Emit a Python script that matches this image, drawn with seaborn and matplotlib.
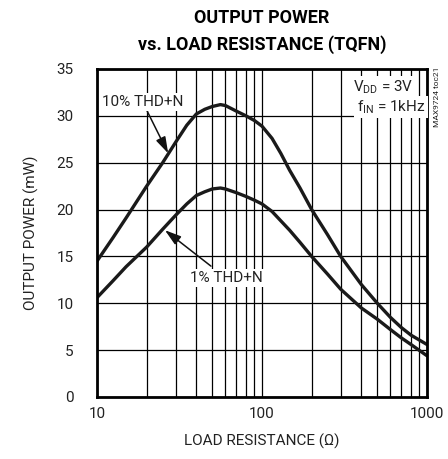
import matplotlib
matplotlib.use("Agg")
import matplotlib.pyplot as plt
import matplotlib.ticker as mticker
import seaborn as sns
import pandas as pd

# data
load_ohm = [10, 12.5, 15, 20, 25, 30, 35, 40, 45, 50, 56, 60, 70, 80, 90, 100, 115, 130,
            147, 170, 200, 250, 300, 400, 500, 600, 700, 800, 1000]
power_10pct = [14.5, 17.0, 19.1, 22.5, 25.0, 27.2, 29.0, 30.2, 30.7, 31.0, 31.2, 31.1, 30.5, 30.0,
               29.5, 28.9, 27.6, 26.0, 24.2, 22.3, 20.0, 17.3, 15.0, 12.0, 10.0, 8.5, 7.4, 6.6, 5.6]
power_1pct = [10.6, 12.4, 13.9, 16.0, 17.9, 19.4, 20.6, 21.5, 21.9, 22.2, 22.3, 22.2, 21.8, 21.4,
              21.0, 20.6, 19.8, 18.8, 17.8, 16.5, 15.0, 13.1, 11.5, 9.5, 8.3, 7.2, 6.3, 5.6, 4.4]
series_names = ["10% THD+N", "1% THD+N"]
y_ticks = [0, 5, 10, 15, 20, 25, 30, 35]
x_ticks = [10, 100, 1000]
x_tick_labels = ["10", "100", "1000"]

df = pd.DataFrame({
    "R": load_ohm * 2,
    "P": power_10pct + power_1pct,
    "s": [series_names[0]] * len(load_ohm) + [series_names[1]] * len(load_ohm),
})

sns.set_theme(style="white")
FONT = ["Roboto", "DejaVu Sans"]
plt.rcParams["font.family"] = FONT
plt.rcParams["mathtext.fontset"] = "custom"
plt.rcParams["mathtext.rm"] = "Roboto"
plt.rcParams["mathtext.default"] = "regular"

TXT = "#222222"
fig = plt.figure(figsize=(4.48, 4.59), dpi=100)
ax = fig.add_axes([97 / 448, 1 - 397 / 459, 330 / 448, 328 / 459])

sns.lineplot(data=df, x="R", y="P", hue="s", palette=["#1a1a1a", "#1a1a1a"],
             linewidth=2.4, legend=False, ax=ax, zorder=3)

ax.set_xscale("log")
ax.set_xlim(10, 1000)
ax.set_ylim(0, 35)
ax.set_yticks(y_ticks)
ax.set_xticks(x_ticks)
ax.set_xticklabels(x_tick_labels)
ax.xaxis.set_minor_locator(mticker.LogLocator(base=10, subs=range(2, 10)))
ax.xaxis.set_minor_formatter(mticker.NullFormatter())
ax.grid(True, which="major", axis="both", color="black", linewidth=0.9)
ax.grid(True, which="minor", axis="x", color="black", linewidth=0.9)
ax.set_axisbelow(True)
for sp in ax.spines.values():
    sp.set_color("black")
    sp.set_linewidth(2.0)
    sp.set_zorder(5)
ax.tick_params(axis="both", which="both", length=0, labelsize=11, colors=TXT)
ax.tick_params(axis="y", pad=17)
ax.tick_params(axis="x", pad=7)
ax.set_xlabel("LOAD RESISTANCE (Ω)", fontsize=11, color=TXT, labelpad=9)
ax.set_ylabel("OUTPUT POWER (mW)", fontsize=11, color=TXT, labelpad=12)

# annotations
bbox = dict(boxstyle="square,pad=0.15", fc="white", ec="none")
arrow = dict(arrowstyle="-|>,head_length=0.9,head_width=0.28", color="#111111",
             lw=1.1, shrinkA=0, shrinkB=0)
ax.annotate(series_names[0], xy=(27.0, 26.0), xytext=(10.7, 31.5),
            fontsize=11, color=TXT, ha="left", va="center", bbox=bbox, zorder=6,
            arrowprops=arrow, annotation_clip=False)
ax.annotate(series_names[1], xy=(25.8, 17.8), xytext=(36.5, 12.7),
            fontsize=11, color=TXT, ha="left", va="center", bbox=bbox, zorder=6,
            arrowprops=dict(arrow, shrinkA=3), annotation_clip=False)

ax.text(0.775, 0.945, r"V$_{DD}$ = 3V", transform=ax.transAxes, fontsize=11,
        color=TXT, ha="left", va="center", bbox=bbox, zorder=6)
ax.text(0.787, 0.883, r"f$_{IN}$ = 1kHz", transform=ax.transAxes, fontsize=11,
        color=TXT, ha="left", va="center", bbox=bbox, zorder=6)

fig.text(437 / 448, 1 - 97 / 459, "MAX9724 toc21", rotation=90, fontsize=6,
         color=TXT, ha="center", va="center")

fig.text(262 / 448, 1 - 18 / 459, "OUTPUT POWER", fontsize=13, fontweight="bold",
         ha="center", va="center", color="black")
fig.text(262 / 448, 1 - 45 / 459, "vs. LOAD RESISTANCE (TQFN)", fontsize=13, fontweight="bold",
         ha="center", va="center", color="black")

fig.savefig("out.png", dpi=100)
